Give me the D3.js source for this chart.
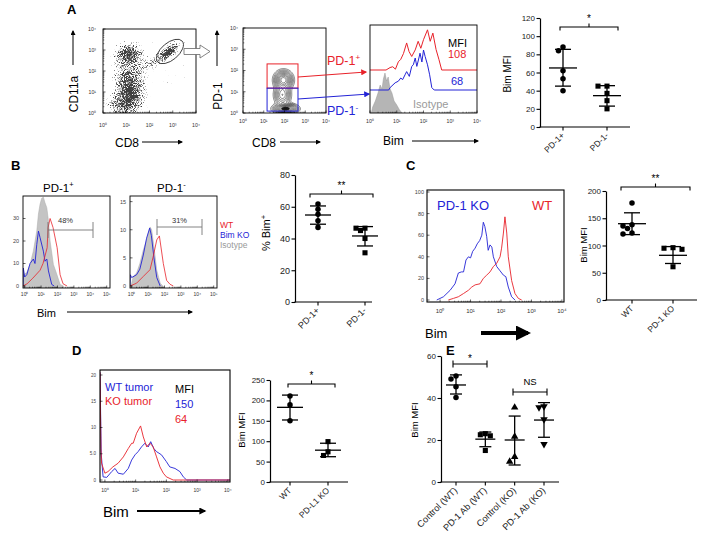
<!DOCTYPE html>
<html><head><meta charset="utf-8">
<script src="https://d3js.org/d3.v7.min.js"></script>
<style>html,body{margin:0;padding:0;background:#fff}svg{display:block}</style>
</head><body>
<svg id="fig" width="701" height="539" xmlns="http://www.w3.org/2000/svg"></svg>
<script>
// ================= DATA =================
const decades4 = [0, 1, 2, 3, 4];
const decades5 = [0, 1, 2, 3, 4, 5];

// A: CD11a vs CD8 event clusters [log CD8, log CD11a, spreadX, spreadY, angle, density]
const scatterClusters = [
  [2.0, 2.0, 1.6, 1.6, 0, 0.25],
  [1.1, 2.8, 0.38, 0.3, 0, 0.95],
  [1.15, 0.9, 0.4, 0.62, 0, 0.95],
  [1.0, 1.9, 0.42, 0.42, 0, 0.5],
  [2.82, 2.9, 0.33, 0.16, -40, 1.0],
  [2.1, 2.4, 0.4, 0.18, -30, 0.5],
  [0.55, 0.3, 0.45, 0.32, 0, 0.5]
];
const gateEllipse = [2.88, 2.93, 0.69, 0.41, -40];
// A: PD-1 vs CD8 contour blobs [log CD8, log PD-1, sdX, sdY, weight]
const contourBlobs = [
  [1.95, 1.55, 0.22, 0.22, 1.0],
  [1.9, 0.85, 0.2, 0.25, 0.6],
  [2.05, 0.2, 0.28, 0.12, 1.3]
];
const contourLevels = [0.05, 0.09, 0.14, 0.2, 0.28, 0.37, 0.48, 0.6, 0.73, 0.87, 1.02, 1.18];
const gateRed = [1.16, 2.65, 1.17, 2.31];
const gateBlue = [1.16, 2.65, 0.09, 1.17];
// A: Bim histograms [log Bim, relative count]
const histA_pos = [[0,0],[0.6,0],[0.75,0.06],[0.85,0.08],[0.95,0.02],[1.06,0.2],[1.15,0.26],[1.25,0.4],[1.37,0.66],[1.46,0.45],[1.56,0.33],[1.69,0.49],[1.8,0.7],[1.9,0.53],[2.0,0.74],[2.15,0.98],[2.25,0.7],[2.35,0.9],[2.47,0.5],[2.58,0.25],[2.68,0],[4,0]];
const histA_neg = [[0,0],[0.7,0],[0.75,0.06],[0.94,0.18],[1.06,0.22],[1.15,0.3],[1.22,0.26],[1.31,0.38],[1.37,0.46],[1.47,0.34],[1.56,0.59],[1.62,0.63],[1.69,0.8],[1.75,0.59],[1.81,0.75],[1.87,0.92],[1.94,0.7],[2.0,1.0],[2.06,0.84],[2.15,0.63],[2.23,0.38],[2.31,0.06],[2.4,0],[4,0]];
const histA_iso = [[0.05,0],[0.1,0.15],[0.2,0.3],[0.3,0.5],[0.38,0.7],[0.45,0.6],[0.5,0.85],[0.56,1.0],[0.62,0.8],[0.68,0.9],[0.75,0.6],[0.82,0.5],[0.9,0.3],[1.0,0.2],[1.1,0.08],[1.2,0]];
const mfiA = ["MFI", "108", "68"];
// A: Bim MFI dot plot
const catsA = ["PD-1+", "PD-1-"];
const bimA_pos = [88, 84, 62, 53, 40];
const bimA_neg = [45, 45, 37, 29, 20];
const bimA_mean = [65, 34.5];
const bimA_lo = [45, 23];
const bimA_hi = [85.5, 45.5];
const ticksA = [0, 20, 40, 60, 80, 100, 120];

// B: histograms [log Bim, count]
const histB1_iso = [[-0.1,0],[-0.08,5],[0.13,6],[0.33,9.6],[0.53,15.5],[0.74,24.4],[0.84,32],[0.94,36.4],[1.04,39],[1.14,39.5],[1.24,37],[1.35,34.8],[1.45,29],[1.55,20],[1.75,9.6],[1.96,5.2],[2.16,0.7],[2.36,0]];
const histB1_ko = [[-0.1,0],[-0.08,8],[0.0,4],[0.13,5],[0.33,10],[0.53,12],[0.63,10],[0.74,18.5],[0.84,24.4],[0.94,21.5],[1.14,15.5],[1.24,11],[1.35,12],[1.45,6.7],[1.65,0.7],[1.8,0]];
const histB1_wt = [[-0.1,0],[0.15,1],[0.5,3.5],[0.94,7],[1.12,10],[1.37,17],[1.43,26],[1.55,30],[1.73,26],[1.98,17],[2.16,5],[2.34,1],[2.58,0]];
const histB2_iso = [[-0.1,0],[0,0.5],[0.1,1.7],[0.3,2.3],[0.5,4],[0.71,6.4],[0.91,8.2],[1.12,10.5],[1.22,10],[1.36,7],[1.53,2.8],[1.74,0.5],[1.9,0]];
const histB2_ko = [[-0.1,0],[-0.08,2],[0.0,1.5],[0.3,2],[0.5,3],[0.71,5.5],[0.91,8.5],[1.1,10.3],[1.2,9],[1.36,5],[1.53,1.5],[1.74,0]];
const histB2_wt = [[-0.1,0],[0.3,0.5],[0.71,1.7],[1.12,2.9],[1.32,5.3],[1.53,8.2],[1.69,8.9],[1.93,4],[2.13,1],[2.34,0.3],[2.54,0]];
const gateB = ["48%", "31%"];
const legendB = ["WT", "Bim KO", "Isotype"];
// B: % Bim+ dot plot
const catsB = ["PD-1+", "PD-1-"];
const bimB_pos = [61.7, 58.4, 55.2, 51.2, 47];
const bimB_neg = [46.5, 46.5, 45, 40, 31];
const bimB_mean = [54.8, 41.6];
const bimB_lo = [49, 35.3];
const bimB_hi = [60.5, 47.5];
const ticksB = [0, 20, 40, 60, 80];

// C: histograms [log Bim, count]
const histC_ko = [[-0.11,0],[0.11,3],[0.33,9],[0.49,15],[0.6,25],[0.7,26],[0.77,26],[0.85,37],[0.93,40],[1.0,39],[1.07,45],[1.15,48],[1.22,52],[1.3,55],[1.37,60],[1.42,72],[1.47,68],[1.53,59],[1.58,46],[1.64,51],[1.7,49],[1.75,40],[1.86,31],[1.97,27],[2.08,23],[2.16,21.6],[2.24,12],[2.35,3],[2.46,0]];
const histC_wt = [[0.27,0],[0.44,1.5],[0.6,3],[0.77,6],[0.93,9],[1.04,12],[1.15,14],[1.31,15],[1.42,20],[1.53,23],[1.64,26],[1.75,31],[1.86,34],[1.97,40],[2.02,48],[2.08,62],[2.13,77],[2.19,62],[2.24,40],[2.35,18],[2.46,6],[2.57,1.5],[2.68,0]];
const ticksCh = [0, 20, 40, 60, 80, 100];
// C: Bim MFI dot plot
const catsC = ["WT", "PD-1 KO"];
const bimC_wt = [178, 138, 136, 131, 123, 121];
const bimC_ko = [96, 95, 93, 61];
const bimC_mean = [140, 82];
const bimC_lo = [120, 67];
const bimC_hi = [160, 98];
const ticksC = [0, 50, 100, 150, 200];

// D: histograms [log Bim, count]
const histD_ko = [[-0.16,20.5],[-0.13,6],[-0.11,3.2],[0,1.3],[0.1,1.6],[0.26,2.5],[0.43,3.2],[0.6,4.4],[0.76,6],[0.87,7],[0.92,7],[1.03,8.9],[1.16,10.3],[1.25,8.2],[1.36,6.3],[1.46,7],[1.52,6.7],[1.57,6.3],[1.68,4.4],[1.79,2.5],[1.9,1.3],[2.0,0.6],[2.22,0],[4.07,0]];
const histD_wt = [[-0.16,20.5],[-0.12,5],[-0.06,0.6],[0.06,0.5],[0.22,1.6],[0.33,2.2],[0.43,1.3],[0.6,1.1],[0.76,2.2],[0.87,3.8],[0.98,4.8],[1.08,5.4],[1.19,6.3],[1.3,7],[1.41,6.3],[1.49,7.3],[1.59,6],[1.68,5.4],[1.84,4.8],[2.0,3.5],[2.11,2.5],[2.28,2.2],[2.44,1.6],[2.55,0.6],[2.66,0],[4.07,0]];
const ticksDh = [0, 5, 10, 15, 20];
const legendD = ["WT tumor", "KO tumor", "MFI", "150", "64"];
// D: Bim MFI dot plot
const catsD = ["WT", "PD-L1 KO"];
const bimD_wt = [211, 189, 150];
const bimD_ko = [99, 74, 65];
const bimD_mean = [183, 78];
const bimD_lo = [152, 62];
const bimD_hi = [213, 95];
const ticksD = [0, 50, 100, 150, 200, 250];

// E: Bim MFI dot plot
const catsE = ["Control (WT)", "PD-1 Ab (WT)", "Control (KO)", "PD-1 Ab (KO)"];
const bimE_ctrlWT = [50.5, 49, 45.4, 40.2];
const bimE_abWT = [23, 22.5, 22, 15];
const bimE_ctrlKO = [35.5, 21.6, 12, 9.7];
const bimE_abKO = [36, 35.5, 29.8, 18];
const bimE_mean = [46.2, 20.4, 20, 29.5];
const bimE_lo = [41.9, 16.8, 8.1, 21.3];
const bimE_hi = [51, 23.8, 31.4, 37.8];
const ticksE = [0, 20, 40, 60];

// ================= DRAWING =================
const F = "'Liberation Sans', Arial, Helvetica, sans-serif";
const RED = "#e8222a", BLUE = "#2323d6";
const SUP = ["⁰","¹","²","³","⁴","⁵"];
const svg = d3.select("#fig").attr("font-family", F);
const defs = svg.append("defs");

function marker(id, color, w, h) {
  defs.append("marker").attr("id", id).attr("viewBox", "0 0 10 10").attr("refX", 8).attr("refY", 5)
    .attr("markerUnits", "userSpaceOnUse").attr("markerWidth", w).attr("markerHeight", h).attr("orient", "auto")
    .append("path").attr("d", "M0,0L10,5L0,10z").attr("fill", color);
}
marker("mk", "#000", 5, 5);
marker("mkR", RED, 7, 6);
marker("mkB", BLUE, 7, 6);
marker("mkBig", "#000", 15, 15);
marker("mkMid", "#000", 8, 7);
function arrow(x1, y1, x2, y2, color, w, mk) {
  svg.append("line").attr("x1", x1).attr("y1", y1).attr("x2", x2).attr("y2", y2)
    .attr("stroke", color).attr("stroke-width", w).attr("marker-end", `url(#${mk})`);
}
function text(x, y, s, o = {}) {
  const t = svg.append("text").attr("x", x).attr("y", y).attr("font-size", o.fs || 10)
    .attr("fill", o.fill || "#000").attr("text-anchor", o.anchor || "start").text(s);
  if (o.bold) t.attr("font-weight", "bold");
  return t;
}
function supText(x, y, base, sup, o = {}) {
  const t = svg.append("text").attr("x", x).attr("y", y).attr("font-size", o.fs || 10)
    .attr("fill", o.fill || "#000").attr("text-anchor", o.anchor || "start");
  t.append("tspan").text(base);
  t.append("tspan").attr("font-size", (o.fs || 10) * 0.65).attr("dy", -(o.fs || 10) * 0.4).text(sup);
  return t;
}
function box(x0, y0, x1, y1, sw = 0.9) {
  svg.append("rect").attr("x", x0).attr("y", y0).attr("width", x1 - x0).attr("height", y1 - y0)
    .attr("fill", "none").attr("stroke", "#000").attr("stroke-width", sw);
}
function logXAxis(xs, decs, yb, ly, fs) {
  const g = svg.append("g");
  decs.forEach((k, i) => {
    g.append("text").attr("x", xs(k)).attr("y", ly).attr("text-anchor", "middle").attr("font-size", fs).attr("fill", "#333").text("10" + SUP[k]);
    g.append("line").attr("x1", xs(k)).attr("x2", xs(k)).attr("y1", yb).attr("y2", yb - 2.5).attr("stroke", "#000").attr("stroke-width", 0.6);
    if (i < decs.length - 1) for (let m = 2; m < 10; m++) {
      const xv = xs(k + Math.log10(m));
      g.append("line").attr("x1", xv).attr("x2", xv).attr("y1", yb).attr("y2", yb - 1.3).attr("stroke", "#000").attr("stroke-width", 0.5);
    }
  });
}
function logYAxis(ys, decs, xb, lx, fs) {
  const g = svg.append("g");
  decs.forEach((k, i) => {
    g.append("text").attr("x", lx).attr("y", ys(k) + fs * 0.35).attr("text-anchor", "end").attr("font-size", fs).attr("fill", "#333").text("10" + SUP[k]);
    g.append("line").attr("x1", xb).attr("x2", xb + 2.5).attr("y1", ys(k)).attr("y2", ys(k)).attr("stroke", "#000").attr("stroke-width", 0.6);
    if (i < decs.length - 1) for (let m = 2; m < 10; m++) {
      const yv = ys(k + Math.log10(m));
      g.append("line").attr("x1", xb).attr("x2", xb + 1.3).attr("y1", yv).attr("y2", yv).attr("stroke", "#000").attr("stroke-width", 0.5);
    }
  });
}
function linYAxis(ys, ticks, xb, lx, fs, fmt) {
  const g = svg.append("g");
  ticks.forEach(v => {
    g.append("text").attr("x", lx).attr("y", ys(v) + fs * 0.35).attr("text-anchor", "end").attr("font-size", fs).attr("fill", "#444").text(fmt ? fmt(v) : v);
    g.append("line").attr("x1", xb).attr("x2", xb + 2.5).attr("y1", ys(v)).attr("y2", ys(v)).attr("stroke", "#000").attr("stroke-width", 0.6);
  });
}
function curve(data, xs, ys, color, w, g) {
  (g || svg).append("path").datum(data).attr("fill", "none").attr("stroke", color).attr("stroke-width", w)
    .attr("stroke-linejoin", "round").attr("d", d3.line().x(d => xs(d[0])).y(d => ys(d[1])));
}
function areaFill(data, xs, ys, y0, fill, stroke, g) {
  (g || svg).append("path").datum(data).attr("fill", fill).attr("stroke", stroke).attr("stroke-width", 0.5)
    .attr("d", d3.area().x(d => xs(d[0])).y0(y0).y1(d => ys(d[1])));
}
function clip(id, x0, y0, x1, y1) {
  defs.append("clipPath").attr("id", id).append("rect").attr("x", x0).attr("y", y0).attr("width", x1 - x0).attr("height", y1 - y0);
  return `url(#${id})`;
}

// ---- panel letters ----
text(67, 14, "A", { fs: 13, bold: true });
text(11, 170, "B", { fs: 13, bold: true });
text(406, 170, "C", { fs: 13, bold: true });
text(72, 355, "D", { fs: 13, bold: true });
text(446, 355, "E", { fs: 13, bold: true });

// ================= PANEL A1: scatter =================
{
  const xs = d3.scaleLinear().domain([0, 4]).range([103, 196]);
  const ys = d3.scaleLinear().domain([0, 4]).range([113, 29]);
  const rg = defs.append("radialGradient").attr("id", "blob");
  [[0, 1], [0.4, 0.65], [0.75, 0.25], [1, 0]].forEach(s => rg.append("stop").attr("offset", s[0]).attr("stop-color", "#000").attr("stop-opacity", s[1]));
  const f = defs.append("filter").attr("id", "speckle").attr("filterUnits", "userSpaceOnUse")
    .attr("x", 100).attr("y", 26).attr("width", 100).attr("height", 90).attr("color-interpolation-filters", "sRGB");
  f.append("feTurbulence").attr("type", "fractalNoise").attr("baseFrequency", 1.1).attr("numOctaves", 2).attr("seed", 5).attr("result", "noise");
  f.append("feColorMatrix").attr("in", "noise").attr("type", "matrix").attr("values", "0 0 0 0 0  0 0 0 0 0  0 0 0 0 0  1 0 0 0 0").attr("result", "na");
  f.append("feComposite").attr("in", "SourceGraphic").attr("in2", "na").attr("operator", "arithmetic")
    .attr("k1", 0).attr("k2", 4).attr("k3", 5).attr("k4", -4.7);
  const g = svg.append("g").attr("clip-path", clip("cA1", 103, 29, 196, 113));
  const gg = g.append("g").attr("filter", "url(#speckle)").attr("opacity", 0.75);
  scatterClusters.forEach(c => {
    const cx = xs(c[0]), cy = ys(c[1]);
    gg.append("ellipse").attr("cx", cx).attr("cy", cy)
      .attr("rx", (xs(c[2]) - xs(0)) * 2.4).attr("ry", (ys(0) - ys(c[3])) * 2.4)
      .attr("transform", `rotate(${c[4]},${cx},${cy})`)
      .attr("fill", "url(#blob)").attr("fill-opacity", c[5]);
  });
  const ge = gateEllipse, ex = xs(ge[0]), ey = ys(ge[1]);
  svg.append("ellipse").attr("cx", ex).attr("cy", ey).attr("rx", xs(ge[2]) - xs(0)).attr("ry", ys(0) - ys(ge[3]))
    .attr("transform", `rotate(${ge[4]},${ex},${ey})`).attr("fill", "none").attr("stroke", "#222").attr("stroke-width", 0.8);
  box(103, 29, 196, 113);
  logXAxis(xs, decades4, 113, 127, 5.2);
  logYAxis(ys, decades4, 103, 96, 5.2);
  svg.append("path").attr("d", "M184,48.5 L200,48.5 L200,45 L210,51.5 L200,58 L200,54.5 L184,54.5 Z")
    .attr("fill", "#fff").attr("stroke", "#666").attr("stroke-width", 0.8);
  svg.append("text").attr("transform", "translate(78,94) rotate(-90)").attr("text-anchor", "middle").attr("font-size", 12).text("CD11a");
  arrow(73, 65, 73, 31, "#000", 1, "mk");
  text(115, 147, "CD8", { fs: 12 });
  arrow(142, 142, 182, 142, "#000", 1, "mk");
}

// ================= PANEL A2: contour =================
{
  const xs = d3.scaleLinear().domain([0, 4]).range([243, 326]);
  const ys = d3.scaleLinear().domain([0, 4]).range([113, 28]);
  const n = 100, step = 4 / n;
  const vals = new Array(n * n);
  for (let j = 0; j < n; j++) for (let i = 0; i < n; i++) {
    const lx = (i + 0.5) * step, ly = (j + 0.5) * step;
    let s = 0;
    contourBlobs.forEach(b => { s += b[4] * Math.exp(-((lx - b[0]) ** 2 / (2 * b[2] ** 2) + (ly - b[1]) ** 2 / (2 * b[3] ** 2))); });
    vals[j * n + i] = s;
  }
  const cs = d3.contours().size([n, n]).thresholds(contourLevels)(vals);
  const path = d3.geoPath(d3.geoTransform({ point(x, y) { this.stream.point(xs(x * step), ys(y * step)); } }));
  const g = svg.append("g").attr("clip-path", clip("cA2", 243, 28, 326, 113));
  g.selectAll("path").data(cs).join("path").attr("d", path)
    .attr("fill", (d, i) => i >= contourLevels.length - 2 ? "#111" : "none")
    .attr("stroke", "#222").attr("stroke-width", 0.55);
  box(243, 28, 326, 113);
  svg.append("rect").attr("x", xs(gateRed[0])).attr("y", ys(gateRed[3])).attr("width", xs(gateRed[1]) - xs(gateRed[0]))
    .attr("height", ys(gateRed[2]) - ys(gateRed[3])).attr("fill", "none").attr("stroke", RED).attr("stroke-width", 1);
  svg.append("rect").attr("x", xs(gateBlue[0])).attr("y", ys(gateBlue[3])).attr("width", xs(gateBlue[1]) - xs(gateBlue[0]))
    .attr("height", ys(gateBlue[2]) - ys(gateBlue[3])).attr("fill", "none").attr("stroke", BLUE).attr("stroke-width", 1);
  logXAxis(xs, decades4, 113, 123, 5.2);
  logYAxis(ys, decades4, 243, 238, 5.2);
  svg.append("text").attr("transform", "translate(222,96) rotate(-90)").attr("text-anchor", "middle").attr("font-size", 12).text("PD-1");
  arrow(217, 66, 217, 31, "#000", 1, "mk");
  text(252, 147, "CD8", { fs: 12 });
  arrow(280, 142, 320, 142, "#000", 1, "mk");
  arrow(xs(gateRed[1]), 77, 366, 72, RED, 1, "mkR");
  arrow(xs(gateBlue[1]), 99, 369, 94, BLUE, 1, "mkB");
  supText(327, 65, "PD-1", "+", { fs: 12.5, fill: RED });
  supText(327, 115, "PD-1", "-", { fs: 12.5, fill: BLUE });
}

// ================= PANEL A3: histogram =================
{
  const xs = d3.scaleLinear().domain([0, 4]).range([370, 477]);
  const yR = d3.scaleLinear().domain([0, 1]).range([70, 29]);
  const yB = d3.scaleLinear().domain([0, 1]).range([90, 50]);
  const yI = d3.scaleLinear().domain([0, 1]).range([113, 73]);
  const g = svg.append("g").attr("clip-path", clip("cA3", 370, 25, 477, 113));
  areaFill(histA_iso, xs, yI, 113, "#b5b5b5", "#9a9a9a", g);
  curve(histA_pos, xs, yR, RED, 1, g);
  curve(histA_neg, xs, yB, BLUE, 1, g);
  box(370, 25, 477, 113);
  logXAxis(xs, decades4, 113, 123, 5.2);
  text(448, 47, mfiA[0], { fs: 11 });
  text(448, 58, mfiA[1], { fs: 11, fill: RED });
  text(451, 85, mfiA[2], { fs: 11, fill: BLUE });
  text(413, 108, "Isotype", { fs: 11, fill: "#9a9a9a" });
  text(383, 145, "Bim", { fs: 12 });
  arrow(412, 141, 478, 141, "#000", 1, "mk");
}

// ================= DOT PLOT HELPER =================
function swarm(ys, r, dx) {
  const placed = [], out = [];
  ys.forEach((yy, i) => {
    for (const k of [0, -1, 1, -2, 2, -3, 3]) {
      const xx = k * dx;
      if (placed.every(p => Math.hypot(p[0] - xx, p[1] - yy) >= 2 * r - 0.3)) { placed.push([xx, yy]); out[i] = xx; break; }
    }
  });
  return out;
}
function dotPlot(o) {
  const g = svg.append("g");
  const y = d3.scaleLinear().domain([o.yTicks[0], o.yTicks[o.yTicks.length - 1]]).range([o.yBottom, o.yTop]);
  const x = d3.scalePoint().domain(o.cats).range(o.catRange);
  const ya = g.append("g").attr("transform", `translate(${o.axisX},0)`)
    .call(d3.axisLeft(y).tickValues(o.yTicks).tickSize(3.5).tickSizeOuter(0).tickPadding(1.5));
  ya.attr("font-family", null).attr("font-size", null);
  ya.select(".domain").attr("stroke", "#000").attr("stroke-width", 1.2);
  ya.selectAll(".tick line").attr("stroke", "#000").attr("stroke-width", 1.1);
  ya.selectAll(".tick text").attr("font-size", o.tfs || 8).attr("fill", "#222");
  g.append("line").attr("x1", o.axisX - 0.6).attr("x2", o.axisEnd).attr("y1", o.yBottom).attr("y2", o.yBottom)
    .attr("stroke", "#000").attr("stroke-width", 1.2);
  o.cats.forEach(c => {
    g.append("line").attr("x1", x(c)).attr("x2", x(c)).attr("y1", o.yBottom).attr("y2", o.yBottom + 3.5).attr("stroke", "#000").attr("stroke-width", 1.1);
    g.append("text").attr("transform", `translate(${x(c) + 2},${o.yBottom + 9}) rotate(-45)`).attr("text-anchor", "end")
      .attr("font-size", o.lfs || 8.5).attr("fill", "#222").text(c);
  });
  o.groups.forEach((vals, gi) => {
    const cx = x(o.cats[gi]);
    const sym = o.symbols[gi];
    const offs = swarm(vals.map(v => y(v)), 2.6, o.dx || 4.5);
    vals.forEach((v, i) => {
      const type = sym === "circle" ? d3.symbolCircle : sym === "square" ? d3.symbolSquare : d3.symbolTriangle;
      const rot = sym === "tridown" ? 180 : 0;
      g.append("path").attr("d", d3.symbol().type(type).size(sym === "square" ? 26 : 24)())
        .attr("transform", `translate(${cx + offs[i]},${y(v)}) rotate(${rot})`).attr("fill", "#000");
    });
    const m = o.means[gi], lo = o.lo[gi], hi = o.hi[gi];
    const mw = o.meanW || 13, cw = o.capW || 7.5;
    g.append("line").attr("x1", cx - mw).attr("x2", cx + mw).attr("y1", y(m)).attr("y2", y(m)).attr("stroke", "#000").attr("stroke-width", 1.3);
    g.append("line").attr("x1", cx).attr("x2", cx).attr("y1", y(lo)).attr("y2", y(hi)).attr("stroke", "#000").attr("stroke-width", 1.3);
    [lo, hi].forEach(v => g.append("line").attr("x1", cx - cw).attr("x2", cx + cw).attr("y1", y(v)).attr("y2", y(v)).attr("stroke", "#000").attr("stroke-width", 1.3));
  });
  return { x, y, g };
}
function bracket(x0, x1, yy, label, fs) {
  const g = svg.append("g").attr("stroke", "#000").attr("stroke-width", 1.1).attr("fill", "none");
  const xm = (x0 + x1) / 2;
  g.append("path").attr("d", `M${x0},${yy + 3.5}V${yy}H${x1}V${yy + 3.5}M${xm},${yy}V${yy - 3.5}`);
  text(xm, yy - 5, label, { fs: fs || 10, anchor: "middle" });
}
function ibar(x0, x1, yy, label, fs, dy) {
  const g = svg.append("g").attr("stroke", "#000").attr("stroke-width", 1.1).attr("fill", "none");
  g.append("path").attr("d", `M${x0},${yy - 3.5}V${yy + 3.5}M${x0},${yy}H${x1}M${x1},${yy - 3.5}V${yy + 3.5}`);
  text((x0 + x1) / 2, yy - (dy || 5), label, { fs: fs || 10, anchor: "middle" });
}
function yLabel(x, y, s, fs) {
  svg.append("text").attr("transform", `translate(${x},${y}) rotate(-90)`).attr("text-anchor", "middle").attr("font-size", fs || 9.5).text(s);
}

// ================= PANEL A4 =================
dotPlot({ cats: catsA, catRange: [563, 607], yTicks: ticksA, yBottom: 127, yTop: 18, axisX: 540, axisEnd: 630,
  groups: [bimA_pos, bimA_neg], symbols: ["circle", "square"], means: bimA_mean, lo: bimA_lo, hi: bimA_hi, meanW: 14, capW: 8 });
bracket(560, 618, 27, "*", 10);
yLabel(511, 74, "Bim MFI", 10);

// ================= PANEL B histograms =================
{
  const xs1 = d3.scaleLinear().domain([-0.1, 5.2]).range([23, 110]);
  const xs2 = d3.scaleLinear().domain([-0.1, 5.2]).range([130, 217]);
  const y1 = d3.scaleLinear().domain([0, 40]).range([286, 196]);
  const y2 = d3.scaleLinear().domain([0, 16]).range([286, 196]);
  const g1 = svg.append("g").attr("clip-path", clip("cB1", 23, 196, 110, 288));
  areaFill(histB1_iso, xs1, y1, 288, "#c4c4c4", "#aaa", g1);
  curve(histB1_ko, xs1, y1, BLUE, 0.9, g1);
  curve(histB1_wt, xs1, y1, RED, 0.8, g1);
  const g2 = svg.append("g").attr("clip-path", clip("cB2", 130, 196, 217, 288));
  areaFill(histB2_iso, xs2, y2, 288, "#c4c4c4", "#aaa", g2);
  curve(histB2_ko, xs2, y2, BLUE, 0.9, g2);
  curve(histB2_wt, xs2, y2, RED, 0.8, g2);
  box(23, 196, 110, 288);
  box(130, 196, 217, 288);
  logXAxis(xs1, decades5, 288, 296, 5);
  logXAxis(xs2, decades5, 288, 296, 5);
  linYAxis(y1, [0, 10, 20, 30], 23, 19, 5.5);
  linYAxis(y2, [0, 5, 10, 15], 130, 126, 5.5);
  supText(43, 192, "PD-1", "+", { fs: 11.5 });
  supText(157, 192, "PD-1", "-", { fs: 11.5 });
  const gb = svg.append("g").attr("stroke", "#777").attr("stroke-width", 0.9).attr("fill", "none");
  gb.append("path").attr("d", "M48,222V238M48,230H93M93,222V238");
  gb.append("path").attr("d", "M157,219V235M157,227H202M202,219V235");
  text(58, 223, gateB[0], { fs: 7.5, fill: "#333" });
  text(172, 223, gateB[1], { fs: 7.5, fill: "#333" });
  text(220, 228, legendB[0], { fs: 8.5, fill: RED });
  text(220, 238, legendB[1], { fs: 8.5, fill: BLUE });
  text(220, 248, legendB[2], { fs: 8.5, fill: "#999" });
  text(37, 317, "Bim", { fs: 11 });
  arrow(67, 312, 192, 312, "#000", 1, "mk");
}

// ================= PANEL B dot plot =================
dotPlot({ cats: catsB, catRange: [318, 365], yTicks: ticksB, yBottom: 302, yTop: 175, axisX: 295, axisEnd: 372,
  groups: [bimB_pos, bimB_neg], symbols: ["circle", "square"], means: bimB_mean, lo: bimB_lo, hi: bimB_hi, meanW: 13, capW: 8, tfs: 9, lfs: 9 });
bracket(310, 373, 194, "**", 10);
{
  const t = svg.append("text").attr("transform", "translate(270,233) rotate(-90)").attr("text-anchor", "middle").attr("font-size", 11);
  t.append("tspan").text("% Bim");
  t.append("tspan").attr("font-size", 7.5).attr("dy", -4.5).text("+");
}

// ================= PANEL C histogram =================
{
  const xs = d3.scaleLinear().domain([-0.43, 4.07]).range([427, 564]);
  const ys = d3.scaleLinear().domain([0, 100]).range([300, 192]);
  const g = svg.append("g").attr("clip-path", clip("cC", 427, 190, 564, 302));
  curve(histC_ko, xs, ys, BLUE, 0.9, g);
  curve(histC_wt, xs, ys, RED, 0.9, g);
  box(427, 190, 564, 302, 1.1);
  logXAxis(xs, decades4, 302, 313, 6);
  linYAxis(ys, ticksCh, 427, 424, 5.5);
  text(437, 210, "PD-1 KO", { fs: 13, fill: BLUE });
  text(532, 210, "WT", { fs: 13, fill: RED });
  text(425, 338, "Bim", { fs: 13 });
  arrow(481, 333, 528, 333, "#000", 4, "mkBig");
}

// ================= PANEL C dot plot =================
dotPlot({ cats: catsC, catRange: [632, 673], yTicks: ticksC, yBottom: 300, yTop: 191, axisX: 606, axisEnd: 697,
  groups: [bimC_wt, bimC_ko], symbols: ["circle", "square"], means: bimC_mean, lo: bimC_lo, hi: bimC_hi, meanW: 14, capW: 8, tfs: 8, lfs: 8.5 });
bracket(621, 690, 187, "**", 10);
yLabel(587, 245, "Bim MFI", 9.5);

// ================= PANEL D histogram =================
{
  const xs = d3.scaleLinear().domain([-0.16, 4.07]).range([100, 230]);
  const ys = d3.scaleLinear().domain([0, 20]).range([480, 375]);
  const g = svg.append("g").attr("clip-path", clip("cD", 100, 370, 230, 482));
  curve(histD_wt, xs, ys, BLUE, 0.9, g);
  curve(histD_ko, xs, ys, RED, 0.9, g);
  box(100, 370, 230, 482, 1.1);
  logXAxis(xs, decades4, 482, 492, 5);
  linYAxis(ys, ticksDh, 100, 96, 4.5, v => v === 5 ? "5.0" : v);
  text(105, 391, legendD[0], { fs: 11, fill: BLUE });
  text(105, 405, legendD[1], { fs: 11, fill: RED });
  text(175, 393, legendD[2], { fs: 11 });
  text(175, 408, legendD[3], { fs: 11, fill: BLUE });
  text(175, 423, legendD[4], { fs: 11, fill: RED });
  text(103, 517, "Bim", { fs: 15 });
  arrow(137, 511, 205, 511, "#000", 2, "mkMid");
}

// ================= PANEL D dot plot =================
dotPlot({ cats: catsD, catRange: [290, 328], yTicks: ticksD, yBottom: 482, yTop: 380, axisX: 270, axisEnd: 348,
  groups: [bimD_wt, bimD_ko], symbols: ["circle", "square"], means: bimD_mean, lo: bimD_lo, hi: bimD_hi, meanW: 13, capW: 8, tfs: 8, lfs: 8.5 });
bracket(288, 335, 384, "*", 10);
yLabel(245, 430, "Bim MFI", 9.5);

// ================= PANEL E dot plot =================
dotPlot({ cats: catsE, catRange: [456, 544], yTicks: ticksE, yBottom: 482, yTop: 356, axisX: 441, axisEnd: 559,
  groups: [bimE_ctrlWT, bimE_abWT, bimE_ctrlKO, bimE_abKO], symbols: ["circle", "square", "tri", "tridown"],
  means: bimE_mean, lo: bimE_lo, hi: bimE_hi, meanW: 10, capW: 6, tfs: 8, lfs: 9.2, dx: 5 });
ibar(453, 487, 364, "*", 10, 2);
ibar(513, 547, 392, "NS", 9.5, 7);
yLabel(418, 420, "Bim MFI", 9.5);
</script></body></html>
